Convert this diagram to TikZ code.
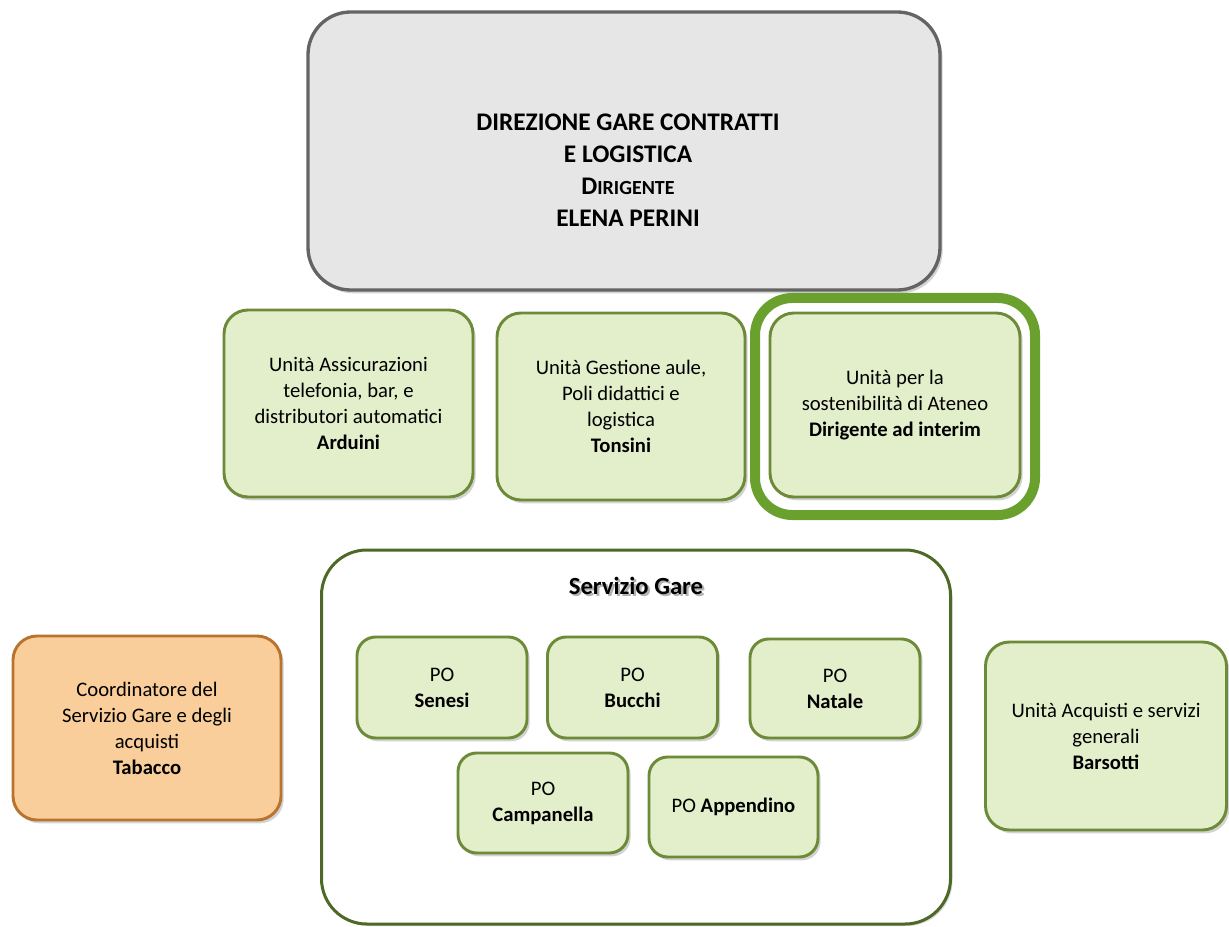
\documentclass[tikz,border=0pt]{standalone}
\usepackage{fontspec}
\setmainfont{Carlito}
\usetikzlibrary{shadows}

\definecolor{unitfill}{RGB}{227,238,203}
\definecolor{unitline}{RGB}{108,138,55}
\definecolor{coordfill}{RGB}{250,206,154}
\definecolor{coordline}{RGB}{184,116,46}
\definecolor{dirfill}{RGB}{230,230,230}
\definecolor{dirline}{RGB}{100,100,100}
\definecolor{framegreen}{RGB}{106,160,46}
\definecolor{gareline}{RGB}{78,104,38}

\tikzset{every picture/.style={line width=0.75pt}}
\tikzset{
  boxsize/.style 2 args={minimum width=#1*0.75pt, minimum height=#2*0.75pt},
  unitbox/.style={draw=unitline, fill=unitfill, line width=2.2pt, rounded corners=18pt,
    inner sep=0pt, align=center, font=\fontsize{15.5}{19.5}\selectfont,
    drop shadow={shadow xshift=2pt, shadow yshift=-2.5pt, opacity=0.35}},
  pobox/.style={unitbox, rounded corners=14pt},
  coordbox/.style={unitbox, draw=coordline, fill=coordfill},
  dirbox/.style={unitbox, draw=dirline, fill=dirfill, line width=2.5pt, rounded corners=32pt},
}
\newcommand{\shadowtext}[1]{\makebox[0pt][l]{\raisebox{-1.6pt}{\hspace{1.6pt}\textcolor{black!30}{#1}}}#1}

\begin{document}
\begin{tikzpicture}[x=0.75pt,y=0.75pt,yscale=-1,xscale=1]
	\useasboundingbox (0,0) rectangle (1229,927);
	
	% Direzione
	\node [dirbox, boxsize={632}{278}] (dir) at (624,151) {};
	\node [align=center, font=\fontsize{19}{24}\selectfont\bfseries] (dirtext) at (628,170)
	  {DIREZIONE GARE CONTRATTI\\ E LOGISTICA\\ D{\fontsize{15}{24}\selectfont IRIGENTE}\\ ELENA PERINI};
	
	% Unita' di staff
	\node [unitbox, boxsize={249}{187}] (arduini) at (348.5,403.5)
	  {Unità Assicurazioni\\ telefonia, bar, e\\ distributori automatici\\ \textbf{Arduini}};
	\node [unitbox, boxsize={248}{187}] (tonsini) at (621,406.5)
	  {Unità Gestione aule,\\ Poli didattici e\\ logistica\\ \textbf{Tonsini}};
	\node [draw=framegreen, line width=7.5pt, rounded corners=28pt, boxsize={280}{217}] (sostframe) at (895,406.5) {};
	\node [unitbox, boxsize={250}{184}] (sost) at (895,405)
	  {Unità per la\\ sostenibilità di Ateneo\\ \textbf{Dirigente ad interim}};
	
	% Servizio Gare
	\node [draw=gareline, fill=white, line width=2.25pt, rounded corners=34pt, boxsize={629}{374},
	  drop shadow={shadow xshift=1.5pt, shadow yshift=-1.5pt, opacity=0.3}] (gare) at (636,737) {};
	\node [font=\fontsize{18.5}{22}\selectfont\bfseries] (garetitle) at (636,587) {\shadowtext{Servizio Gare}};
	
	\node [pobox, boxsize={170}{101}] (senesi) at (442,687.5) {PO\\ \textbf{Senesi}};
	\node [pobox, boxsize={170}{101}] (bucchi) at (632.5,687.5) {PO\\ \textbf{Bucchi}};
	\node [pobox, boxsize={170}{99}] (natale) at (835,688.5) {PO\\ \textbf{Natale}};
	\node [pobox, boxsize={170}{100}] (campanella) at (543,803) {PO\\ \textbf{Campanella}};
	\node [pobox, boxsize={169}{100}] (appendino) at (733.5,807) {PO \textbf{Appendino}};
	
	% Laterali
	\node [coordbox, boxsize={268}{184}] (tabacco) at (147,728)
	  {Coordinatore del\\ Servizio Gare e degli\\ acquisti\\ \textbf{Tabacco}};
	\node [unitbox, boxsize={241}{188}] (barsotti) at (1106,736)
	  {Unità Acquisti e servizi\\ generali\\ \textbf{Barsotti}};
	
\end{tikzpicture}
\end{document}
